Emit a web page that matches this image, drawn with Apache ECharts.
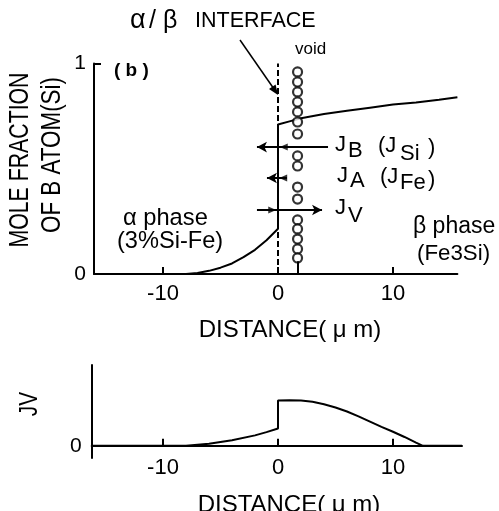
<!DOCTYPE html>
<html>
<head>
<meta charset="utf-8">
<script src="https://cdn.jsdelivr.net/npm/echarts@6/dist/echarts.min.js"></script>
<style>
  html, body { margin: 0; padding: 0; background: #fff; }
  #chart { width: 499px; height: 511px; }
</style>
</head>
<body>
<div id="chart"></div>
<script>
const FONT = '"Liberation Sans", Arial, Helvetica, sans-serif';

// mole fraction of Si across the interface, x in um
const alphaProfile = [[-16, 0], [-8, 0], [-7, 0.005], [-6, 0.015], [-5, 0.03], [-4, 0.05],
  [-3, 0.08], [-2, 0.115], [-1, 0.16], [0, 0.215]];
const betaProfile = [[0, 0.71], [1, 0.725], [2, 0.74], [4, 0.76], [6, 0.775], [8, 0.79],
  [10, 0.805], [12, 0.815], [14, 0.828], [15.6, 0.84]];

// void column
const voidX = 1.7;
const voidY = [0.96, 0.912, 0.865, 0.817, 0.77, 0.722, 0.665, 0.561, 0.513, 0.413, 0.356,
  0.257, 0.214, 0.166, 0.119, 0.076];

// flux arrows: start, end (arrow head), height
const fluxNames = ['JB', 'JA', 'JV'];
const fluxFrom = [4.35, 0.78, -1.83];
const fluxTo = [-1.83, -0.96, 3.83];
const fluxY = [0.603, 0.456, 0.304];
const fluxMarkX = [0.5, 0.45, -0.5];
const fluxMarkRot = [90, 90, -90];

// vacancy flux profile
const jvProfile = [[-16.2, 0], [-8, 0], [-6, 0.025], [-4, 0.07], [-2, 0.13], [-1, 0.17], [0, 0.215],
  [0, 0.56], [1, 0.565], [2, 0.56], [3, 0.545], [4, 0.515], [5, 0.475], [6, 0.425], [7, 0.365],
  [8, 0.3], [9, 0.235], [10, 0.175], [11, 0.11], [12, 0.04], [12.6, 0], [16, 0]];

const xTicks = [-10, 0, 10];
const topYLabels = [0, 1];
const bottomYLabels = [0];

const chart = echarts.init(document.getElementById('chart'));

const axisLine = { onZero: false, lineStyle: { color: '#000', width: 2 } };
const labelStyle = { color: '#000', fontFamily: FONT, fontSize: 22 };

const fluxLines = fluxNames.map((n, i) => [
  { coord: [fluxFrom[i], fluxY[i]], symbol: 'none' },
  { coord: [fluxTo[i], fluxY[i]], symbol: 'arrow', symbolSize: [8, 10] },
]);

const txt = (text, x, y, size, extra) => ({
  type: 'text', x, y, style: Object.assign({
    text, fill: '#000', font: `${size}px ${FONT}`, verticalAlign: 'middle',
  }, extra || {}),
});

// rotated axis title, squeezed along its length
const vtxt = (text, x, y, size, squeeze) => Object.assign(
  txt(text, x, y, size, { align: 'center' }),
  { rotation: Math.PI / 2, scaleX: squeeze },
);

const opts = {
  animation: false,
  backgroundColor: '#fff',
  grid: [
    { left: 94, top: 63.5, width: 363.4, height: 210.5 },
    { left: 91.7, top: 365, width: 370.3, height: 93 },
  ],
  xAxis: [
    {
      gridIndex: 0, type: 'value', min: -16, max: 15.6,
      axisLine: axisLine,
      axisTick: { inside: true, length: 7, customValues: xTicks, lineStyle: { color: '#000', width: 2 } },
      axisLabel: Object.assign({ customValues: xTicks, margin: 9 }, labelStyle),
      splitLine: { show: false },
    },
    {
      gridIndex: 1, type: 'value', min: -16.2, max: 16,
      axisLine: { onZero: true, lineStyle: { color: '#000', width: 2 } },
      axisTick: { inside: true, length: 7, customValues: xTicks, lineStyle: { color: '#000', width: 2 } },
      axisLabel: Object.assign({ customValues: xTicks, margin: -1 }, labelStyle),
      splitLine: { show: false },
    },
  ],
  yAxis: [
    {
      gridIndex: 0, type: 'value', min: 0, max: 1,
      axisLine: axisLine,
      axisTick: { inside: true, length: 7, customValues: [1], lineStyle: { color: '#000', width: 2 } },
      axisLabel: Object.assign({ customValues: topYLabels, margin: 8 }, labelStyle, { fontSize: 21 }),
      splitLine: { show: false },
    },
    {
      gridIndex: 1, type: 'value', min: -0.15, max: 1,
      axisLine: axisLine,
      axisTick: { show: false },
      axisLabel: Object.assign({ customValues: bottomYLabels, margin: 10 }, labelStyle, { fontSize: 21 }),
      splitLine: { show: false },
    },
  ],
  series: [
    {
      type: 'line', xAxisIndex: 0, yAxisIndex: 0,
      data: alphaProfile.concat(betaProfile),
      showSymbol: false, silent: true,
      lineStyle: { color: '#000', width: 2 },
      markLine: {
        silent: true, symbol: 'none', label: { show: false },
        lineStyle: { color: '#000', width: 2, type: [6, 3] },
        data: [[{ coord: [0, 0] }, { coord: [0, 1] }]],
      },
      z: 3,
    },
    {
      type: 'scatter', xAxisIndex: 0, yAxisIndex: 0,
      data: voidY.map((y) => [voidX, y]),
      symbol: 'circle', symbolSize: 9, silent: true,
      itemStyle: { color: '#fff', borderColor: '#000', borderWidth: 2.2 },
      markLine: {
        silent: true, symbol: 'none', label: { show: false },
        lineStyle: { color: '#000', width: 2, type: 'solid' },
        data: [[{ coord: [voidX, 0] }, { coord: [voidX, 0.06] }]].concat(fluxLines),
      },
      z: 4,
    },
    {
      type: 'scatter', xAxisIndex: 0, yAxisIndex: 0,
      data: fluxMarkX.map((x, i) => ({ value: [x, fluxY[i]], symbolRotate: fluxMarkRot[i] })),
      symbol: 'triangle', symbolSize: [7, 8], silent: true,
      itemStyle: { color: '#000' },
      z: 5,
    },
    {
      type: 'line', xAxisIndex: 1, yAxisIndex: 1,
      data: jvProfile, showSymbol: false, silent: true,
      lineStyle: { color: '#000', width: 2 },
    },
  ],
  graphic: [
    txt('α', 130, 21, 27), txt('/', 149, 21, 25), txt('β', 163, 21, 25),
    txt('INTERFACE', 195, 21, 21.5),
    { type: 'line', shape: { x1: 240, y1: 40, x2: 274, y2: 89 }, style: { stroke: '#000', lineWidth: 1.5 } },
    { type: 'polygon', shape: { points: [[278, 95], [269, 89.1], [275.6, 84.5]] }, style: { fill: '#000' } },
    txt('void', 295, 49, 17),
    txt('( b )', 114, 71, 19, { font: `bold 19px ${FONT}` }),
    txt('α phase', 123, 218, 23.7),
    txt('(3%Si-Fe)', 117, 241, 23.6),
    txt('β phase', 413, 227, 23),
    txt('(Fe3Si)', 417, 254, 22.3),
    txt('J', 335, 145, 22), txt('B', 348, 151, 22), txt('(J', 378, 146, 22), txt('Si', 400, 154, 22), txt(')', 428, 148, 22),
    txt('J', 337, 176, 22), txt('A', 350, 181, 22), txt('(J', 380, 177, 22), txt('Fe', 400, 183, 22), txt(')', 428, 180, 22),
    txt('J', 335, 208, 22), txt('V', 348, 216, 22),
    vtxt('MOLE FRACTION', 20, 160, 28, 0.76),
    vtxt('OF B ATOM(Si)', 52, 155, 28, 0.8),
    txt('DISTANCE( μ m)', 290, 330, 24, { align: 'center' }),
    vtxt('JV', 30, 404, 26, 0.8),
    txt('DISTANCE( μ m)', 289, 505, 24, { align: 'center' }),
  ],
};

chart.setOption(opts);
</script>
</body>
</html>
